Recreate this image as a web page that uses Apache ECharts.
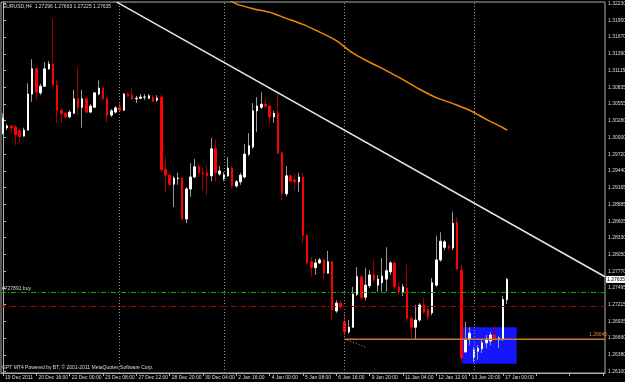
<!DOCTYPE html>
<html>
<head>
<meta charset="utf-8">
<script src="https://cdn.jsdelivr.net/npm/echarts@6/dist/echarts.min.js"></script>
<style>
  html, body { margin: 0; padding: 0; background: #000; }
  #main { width: 625px; height: 382px; }
</style>
</head>
<body>
<div id="main"></div>
<script>
// EURUSD H4, 19 Dec 2011 - 17 Jan 2012
var tickLabels = ['19 Dec 2011', '20 Dec 16:00', '22 Dec 00:00', '23 Dec 08:00', '27 Dec 12:00',
  '28 Dec 20:00', '30 Dec 04:00', '2 Jan 16:00', '4 Jan 00:00', '5 Jan 08:00', '6 Jan 16:00',
  '9 Jan 20:00', '11 Jan 04:00', '12 Jan 12:00', '13 Jan 20:00', '17 Jan 00:00'];

var priceTicks = [1.32230, 1.31950, 1.31670, 1.31390, 1.31115, 1.30835, 1.30555, 1.30280,
  1.30000, 1.29720, 1.29440, 1.29165, 1.28885, 1.28605, 1.28330, 1.28050, 1.27770, 1.27495,
  1.27215, 1.26935, 1.26660, 1.26380, 1.26100];

var opens = [1.3007,1.3016,1.3019,1.3017,1.3011,1.3002,1.3012,1.3072,1.3114,1.3074,
  1.3085,1.3114,1.3122,1.3087,1.3045,1.3040,1.3034,1.3040,1.3064,1.3050,
  1.3064,1.3042,1.3050,1.3072,1.3082,1.3064,1.3037,1.3042,1.3050,1.3045,
  1.3072,1.3070,1.3064,1.3065,1.3067,1.3065,1.3067,1.3062,1.3067,1.2947,
  1.2937,1.2922,1.2931,1.2932,1.2864,1.2914,1.2934,1.2951,1.2941,1.2941,
  1.2936,1.2981,1.2939,1.2931,1.2936,1.2949,1.2919,1.2926,1.2934,1.2972,
  1.2984,1.3044,1.3050,1.3055,1.3052,1.3034,1.3040,1.2974,1.2906,1.2936,
  1.2929,1.2926,1.2934,1.2837,1.2793,1.2783,1.2791,1.2796,1.2774,1.2793,
  1.2711,1.2724,1.2693,1.2676,1.2684,1.2739,1.2768,1.2734,1.2753,1.2771,
  1.2754,1.2758,1.2764,1.2776,1.2791,1.2751,1.2743,1.2749,1.2699,1.2684,
  1.2696,1.2721,1.2713,1.2708,1.2754,1.2796,1.2817,1.2819,1.2816,1.2859,
  1.2779,1.2643,1.2664,1.2633,1.2644,1.2648,1.2658,1.2661,1.2671,1.2663,
  1.2664,1.27296];

var closes = [1.3032,1.3019,1.3016,1.3004,1.3001,1.3012,1.3072,1.3114,1.3075,1.3085,
  1.3114,1.3122,1.3087,1.3045,1.3039,1.3034,1.3042,1.3064,1.3050,1.3064,
  1.3042,1.3052,1.3074,1.3082,1.3064,1.3037,1.3044,1.3049,1.3045,1.3072,
  1.3069,1.3064,1.3065,1.3067,1.3067,1.3069,1.3060,1.3065,1.2946,1.2937,
  1.2922,1.2932,1.2932,1.2864,1.2914,1.2934,1.2951,1.2941,1.2939,1.2936,
  1.2981,1.2941,1.2944,1.2937,1.2949,1.2919,1.2926,1.2937,1.2972,1.2986,
  1.3044,1.3052,1.3055,1.3052,1.3034,1.3040,1.2974,1.2907,1.2936,1.2927,
  1.2926,1.2934,1.2837,1.2791,1.2783,1.2791,1.2796,1.2774,1.2793,1.2713,
  1.2724,1.2718,1.2676,1.2684,1.2739,1.2768,1.2733,1.2754,1.2771,1.2763,
  1.2764,1.2769,1.2778,1.2791,1.2751,1.2743,1.2751,1.2699,1.2684,1.2696,
  1.2721,1.2709,1.2701,1.2758,1.2796,1.2827,1.2826,1.2816,1.2857,1.2781,
  1.2633,1.2664,1.2674,1.2646,1.2649,1.2658,1.2664,1.2671,1.2663,1.2666,
  1.2730,1.27635];

var highs = [1.3040,1.3022,1.3021,1.3021,1.3014,1.3016,1.3090,1.3130,1.3117,1.3089,
  1.3125,1.3127,1.3197,1.3095,1.3049,1.3042,1.3045,1.3079,1.3117,1.3079,
  1.3067,1.3055,1.3075,1.3095,1.3085,1.3067,1.3047,1.3052,1.3059,1.3074,
  1.3074,1.3082,1.3069,1.3072,1.3072,1.3072,1.3070,1.3070,1.3072,1.2967,
  1.2939,1.2936,1.2941,1.2934,1.2917,1.2957,1.2964,1.2956,1.2951,1.2954,
  1.2999,1.2996,1.2952,1.2942,1.2967,1.2952,1.2929,1.2941,1.2989,1.3007,
  1.3057,1.3067,1.3075,1.3064,1.3054,1.3044,1.3074,1.2976,1.2952,1.2937,
  1.2939,1.2941,1.2941,1.2839,1.2801,1.2798,1.2799,1.2798,1.2811,1.2794,
  1.2729,1.2728,1.2708,1.2696,1.2751,1.2784,1.2771,1.2783,1.2779,1.2796,
  1.2771,1.2799,1.2817,1.2794,1.2793,1.2758,1.2756,1.2788,1.2703,1.2721,
  1.2724,1.2733,1.2719,1.2766,1.2836,1.2842,1.2829,1.2822,1.2876,1.2867,
  1.2788,1.2693,1.2684,1.2651,1.2654,1.2663,1.2671,1.2676,1.2686,1.2669,
  1.2736,1.27663];

var lows = [1.3004,1.3012,1.3007,1.2987,1.2992,1.3001,1.3011,1.3059,1.3062,1.3070,
  1.3084,1.3112,1.3085,1.3024,1.3024,1.3032,1.3032,1.3039,1.3037,1.3016,
  1.3040,1.3040,1.3049,1.3070,1.3062,1.3025,1.3034,1.3040,1.3042,1.3044,
  1.3067,1.3062,1.3057,1.3064,1.3062,1.3064,1.3059,1.3059,1.2942,1.2909,
  1.2919,1.2884,1.2921,1.2862,1.2857,1.2901,1.2932,1.2934,1.2912,1.2904,
  1.2927,1.2927,1.2936,1.2927,1.2934,1.2916,1.2916,1.2921,1.2932,1.2969,
  1.2981,1.3009,1.3047,1.3049,1.3021,1.3024,1.2972,1.2896,1.2902,1.2926,
  1.2912,1.2909,1.2824,1.2788,1.2768,1.2771,1.2789,1.2763,1.2773,1.2696,
  1.2708,1.2714,1.2666,1.2673,1.2683,1.2736,1.2729,1.2729,1.2749,1.2759,
  1.2743,1.2743,1.2743,1.2771,1.2746,1.2738,1.2736,1.2693,1.2666,1.2663,
  1.2693,1.2706,1.2696,1.2704,1.2751,1.2793,1.2812,1.2812,1.2812,1.2779,
  1.2624,1.2641,1.2654,1.2626,1.2630,1.2641,1.2649,1.2654,1.2658,1.2649,
  1.2661,1.27225];

// moving average (orange), read at a few bars
var maBars = [54, 56, 60, 64, 68, 72, 76, 80, 84, 88, 92, 96, 100, 104, 108, 112, 116, 120, 121];
var maValues = [1.3230, 1.3222, 1.3214, 1.3208, 1.3198, 1.3188, 1.3175, 1.3161, 1.3140, 1.3125,
  1.3111, 1.3096, 1.3080, 1.3066, 1.3056, 1.3045, 1.3030, 1.3016, 1.3012];

// objects drawn on the chart
var trendBars = [27.3, 144.5];
var trendPrices = [1.3225, 1.2768];
var separatorBars = [28, 53, 82, 113];
var buyPrice = 1.27421;
var stopPrice = 1.27182;
var levelPrice = 1.26640;
var levelStartBar = 82;
var dotBars = [82, 87];
var dotPrices = [1.2664, 1.2651];
var boxBars = [110.3, 123.3];
var boxPrices = [1.2684, 1.2623];

var totalBars = 145; // includes empty shift on the right
var cats = [];
for (var i = 0; i < totalBars; i++) cats.push(String(i));

var n = opens.length;
var full = [], bodies = [];
for (var i = 0; i < n; i++) {
  full.push([opens[i], closes[i], lows[i], highs[i]]);
  bodies.push([opens[i], closes[i], Math.min(opens[i], closes[i]), Math.max(opens[i], closes[i])]);
}
var maData = maBars.map(function (b, k) { return [b, maValues[k]]; });
var last = n - 1;

var FONT = 'Liberation Sans';
var TXT = '#dcdcdc';
var AX = '#b0b0b0';

var myChart = echarts.init(document.getElementById('main'));
myChart.setOption({
  animation: false,
  backgroundColor: '#000',
  title: [
    {
      text: 'EURUSD,H4  ' + opens[last].toFixed(5) + ' ' + highs[last].toFixed(5) + ' ' +
        lows[last].toFixed(5) + ' ' + closes[last].toFixed(5),
      left: 3, top: 4, padding: 0,
      textStyle: { color: TXT, fontSize: 5, fontWeight: 'normal', fontFamily: FONT }
    },
    {
      text: 'GPT MT4 Powered by BT, \u00a9 2001-2011 MetaQuotes Software Corp.',
      left: 2, top: 365, padding: 0,
      textStyle: { color: TXT, fontSize: 5, fontWeight: 'normal', fontFamily: FONT }
    }
  ],
  grid: {
    left: 1, top: 2, right: 20, bottom: 9,
    outerBoundsMode: 'none',
    containLabel: false,
    show: true, borderColor: AX, borderWidth: 1, backgroundColor: '#000'
  },
  xAxis: [
    {
      type: 'category',
      data: cats,
      boundaryGap: true,
      axisLine: { lineStyle: { color: AX } },
      axisTick: { show: true, interval: 7, alignWithLabel: true, length: 3, lineStyle: { color: AX } },
      axisLabel: {
        interval: 7, color: TXT, fontSize: 5, fontFamily: FONT, align: 'left', margin: 2,
        padding: [0, 0, 0, 2],
        formatter: function (v, idx) { return tickLabels[idx / 8] || ''; }
      },
      splitLine: { show: false }
    },
    { type: 'value', min: -0.5, max: totalBars - 0.5, show: false }
  ],
  yAxis: {
    type: 'value',
    position: 'right',
    min: 1.26078,
    max: 1.32252,
    scale: true,
    splitLine: { show: false },
    axisLine: { show: true, lineStyle: { color: AX } },
    axisTick: { show: true, length: 3, customValues: priceTicks, lineStyle: { color: AX } },
    axisLabel: {
      color: TXT, fontSize: 5, fontFamily: FONT, margin: 3,
      customValues: priceTicks,
      formatter: function (v) { return v.toFixed(5); }
    }
  },
  series: [
    {
      // blue rectangle + period separators
      type: 'line', xAxisIndex: 1, data: [], z: 1, silent: true,
      markArea: {
        silent: true,
        itemStyle: { color: '#1414ff', opacity: 1 },
        data: [[{ coord: [boxBars[0], boxPrices[0]] }, { coord: [boxBars[1], boxPrices[1]] }]]
      },
      markLine: {
        silent: true, symbol: 'none', label: { show: false },
        lineStyle: { color: '#8a8a8a', type: [1, 2], width: 1 },
        data: separatorBars.map(function (b) { return { xAxis: b }; })
      }
    },
    {
      name: 'wicks', type: 'candlestick', data: full, barWidth: 1, z: 3,
      itemStyle: { color: '#9a9a9a', color0: '#a00000', borderColor: '#9a9a9a', borderColor0: '#a00000', borderWidth: 1 }
    },
    {
      name: 'bodies', type: 'candlestick', data: bodies, barWidth: 2, z: 3,
      itemStyle: { color: '#ffffff', color0: '#ff0000', borderColor: '#ffffff', borderColor0: '#ff0000', borderWidth: 1 }
    },
    {
      // order lines
      type: 'line', xAxisIndex: 1, data: [], z: 2, silent: true,
      markLine: {
        silent: true, symbol: 'none', precision: 5,
        data: [
          {
            yAxis: buyPrice,
            lineStyle: { color: '#00b400', type: [5, 2, 1, 2], width: 1 },
            label: { show: true, position: 'insideStartTop', formatter: '#727891 buy', color: TXT, fontSize: 5, fontFamily: FONT, distance: 1 }
          },
          {
            yAxis: stopPrice,
            lineStyle: { color: '#b40000', type: [5, 2, 1, 2], width: 1 },
            label: { show: false }
          }
        ]
      }
    },
    {
      // current price box on the price scale
      type: 'line', xAxisIndex: 1, data: [], z: 6, silent: true, clip: false,
      markLine: {
        silent: true, symbol: 'none', precision: 5,
        data: [
          {
            yAxis: closes[last],
            lineStyle: { color: 'rgba(0,0,0,0)', width: 1 },
            label: {
              show: true, position: 'end', distance: 1, opacity: 1,
              formatter: closes[last].toFixed(5),
              color: '#000', backgroundColor: '#fff', padding: [1, 2, 1, 1],
              fontSize: 5, fontFamily: FONT
            }
          }
        ]
      }
    },
    {
      name: 'MA', type: 'line', xAxisIndex: 1, data: maData, smooth: 0.3, symbol: 'none', z: 4,
      lineStyle: { color: '#f08a00', width: 1.5 }
    },
    {
      name: 'trend', type: 'line', xAxisIndex: 1, symbol: 'none', z: 5,
      data: [[trendBars[0], trendPrices[0]], [trendBars[1], trendPrices[1]]],
      lineStyle: { color: '#e6e6e6', width: 1.5 }
    },
    {
      name: 'level', type: 'line', xAxisIndex: 1, symbol: 'none', z: 4,
      data: [[levelStartBar, levelPrice], [totalBars - 0.5, levelPrice]],
      lineStyle: { color: '#c87a28', width: 1.5 },
      endLabel: {
        show: true, formatter: levelPrice.toFixed(5), color: '#e08a30', fontSize: 5,
        fontFamily: FONT, offset: [-24, -5]
      }
    },
    {
      name: 'dots', type: 'line', xAxisIndex: 1, symbol: 'none', z: 4,
      data: [[dotBars[0], dotPrices[0]], [dotBars[1], dotPrices[1]]],
      lineStyle: { color: '#9a9a9a', type: [1, 2], width: 1 }
    }
  ]
});
</script>
</body>
</html>
